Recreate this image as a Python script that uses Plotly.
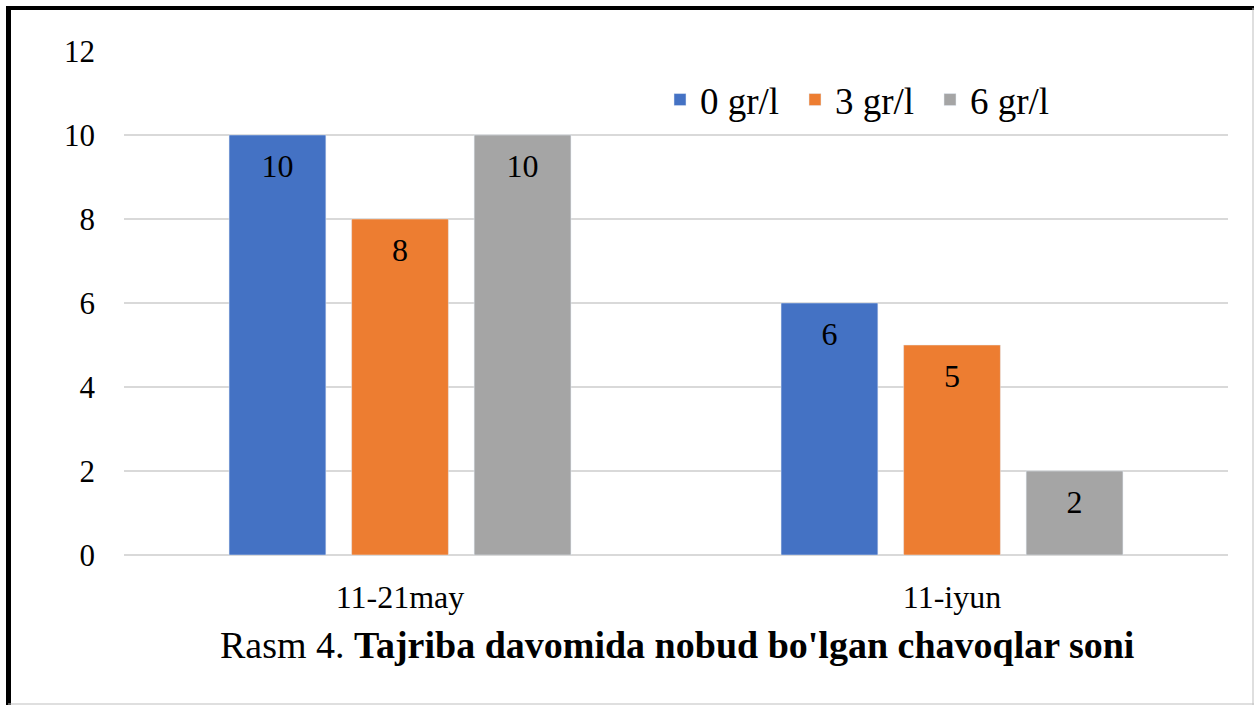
import plotly.graph_objects as go

categories = ["11-21may", "11-iyun"]
series_names = ["0 gr/l", "3 gr/l", "6 gr/l"]
values_0 = [10, 6]
values_3 = [8, 5]
values_6 = [10, 2]
colors = ["#4472C4", "#ED7D31", "#A5A5A5"]
y_ticks = [0, 2, 4, 6, 8, 10, 12]

SERIF = "Liberation Serif, Times New Roman, serif"
W, H = 1254, 705
L, R, T, B = 124, 26, 51, 150
pw, ph = W - L - R, H - T - B

def px_x(p):
    return (p - L) / pw

def px_y(p):
    return (H - B - p) / ph

fig = go.Figure()
all_vals = [values_0, values_3, values_6]
for i, (name, vals, col) in enumerate(zip(series_names, all_vals, colors)):
    fig.add_trace(go.Bar(
        x=categories, y=vals, name=name, marker_color=col,
        offsetgroup=str(i), hoverinfo="x+y+name",
    ))
# value labels, grouped like the bars, hanging just under each bar top
for i, (name, vals) in enumerate(zip(series_names, all_vals)):
    fig.add_trace(go.Scatter(
        x=categories, y=vals, mode="markers+text", orientation="v",
        offsetgroup=str(i), showlegend=False, hoverinfo="skip",
        marker=dict(size=27, opacity=0),
        text=[str(v) for v in vals], textposition="bottom center",
        textfont=dict(family=SERIF, size=32, color="black"),
        cliponaxis=False,
    ))

fig.update_layout(
    width=W, height=H,
    margin=dict(l=L, r=R, t=T, b=B),
    paper_bgcolor="white", plot_bgcolor="white",
    barmode="group", bargap=0.334, bargroupgap=0.21,
    scattermode="group", scattergap=0.334,
    font=dict(family=SERIF, color="black"),
    legend=dict(
        orientation="h", x=px_x(660), y=px_y(100), xanchor="left", yanchor="middle",
        font=dict(size=37, family=SERIF), bgcolor="rgba(0,0,0,0)",
        itemwidth=30, traceorder="normal", entrywidth=90, entrywidthmode="pixels",
    ),
    xaxis=dict(
        showgrid=False, showline=False, ticks="",
        tickfont=dict(size=32, family=SERIF),
        ticklabelstandoff=20,
    ),
    yaxis=dict(
        range=[0, 12], tickvals=y_ticks, showgrid=True, gridcolor="#D9D9D9", gridwidth=2,
        zeroline=True, zerolinecolor="#D9D9D9", zerolinewidth=2,
        showline=False, ticks="", tickfont=dict(size=31, family=SERIF),
        ticklabelstandoff=28,
    ),
    annotations=[dict(
        xref="paper", yref="paper", x=px_x(677), y=px_y(645), xanchor="center", yanchor="middle",
        text="Rasm 4. <b>Tajriba davomida nobud bo'lgan chavoqlar soni</b>",
        showarrow=False, font=dict(size=38, family=SERIF, color="black"),
    )],
    shapes=[
        dict(type="line", xref="paper", yref="paper", x0=px_x(6), x1=px_x(1254), y0=px_y(8), y1=px_y(8),
             line=dict(color="black", width=4)),
        dict(type="line", xref="paper", yref="paper", x0=px_x(8.5), x1=px_x(8.5), y0=px_y(6), y1=px_y(705),
             line=dict(color="black", width=5)),
        dict(type="line", xref="paper", yref="paper", x0=px_x(1253), x1=px_x(1253), y0=px_y(8), y1=px_y(705),
             line=dict(color="#BFBFBF", width=1)),
        dict(type="line", xref="paper", yref="paper", x0=px_x(8), x1=px_x(1254), y0=px_y(704), y1=px_y(704),
             line=dict(color="#BFBFBF", width=1)),
    ],
)

fig.write_html(
    "out.html",
    config={"displayModeBar": False},
    post_script="document.body.style.margin='0';document.body.style.overflow='hidden';",
)
